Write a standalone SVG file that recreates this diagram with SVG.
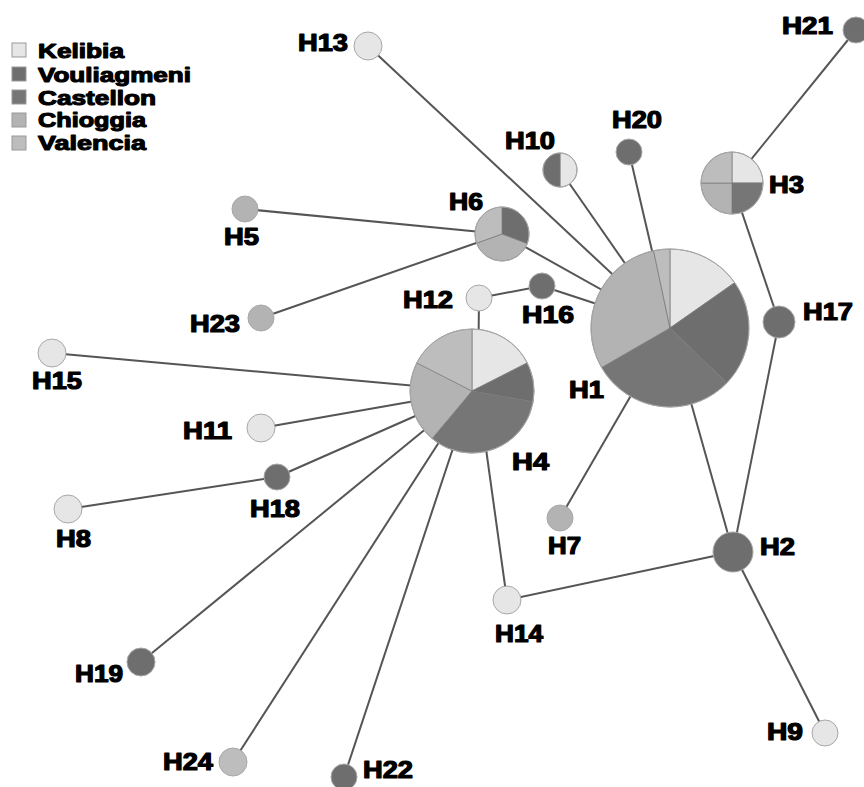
<svg xmlns="http://www.w3.org/2000/svg" width="864" height="787" viewBox="0 0 864 787">
<style>
.e{stroke:#555;stroke-width:2;fill:none}
.n{stroke:#a8a8a8;stroke-width:1}
.s{stroke:#7a7a7a;stroke-width:0.7}
.K{fill:#e6e6e6}.V{fill:#6e6e6e}.C{fill:#767676}.G{fill:#b3b3b3}.L{fill:#bdbdbd}
.t{font-family:"Liberation Sans",Arial,sans-serif;font-weight:bold;font-size:23px;fill:#000;stroke:#000;stroke-width:1.2;stroke-linejoin:round}
.lg{font-family:"Liberation Sans",Arial,sans-serif;font-weight:bold;font-size:20px;fill:#000;stroke:#000;stroke-width:1.1;stroke-linejoin:round}
.sq{stroke:#999;stroke-width:1}
</style>
<rect width="864" height="787" fill="#fff"/>
<g id="legend">
<rect class="sq K" x="12" y="43" width="14" height="14"/><text class="lg" x="38" y="58" textLength="86" lengthAdjust="spacingAndGlyphs">Kelibia</text>
<rect class="sq V" x="12" y="67" width="14" height="14"/><text class="lg" x="38" y="82" textLength="153" lengthAdjust="spacingAndGlyphs">Vouliagmeni</text>
<rect class="sq C" x="12" y="90" width="14" height="14"/><text class="lg" x="38" y="105" textLength="118" lengthAdjust="spacingAndGlyphs">Castellon</text>
<rect class="sq G" x="12" y="113" width="14" height="14"/><text class="lg" x="38" y="127" textLength="108" lengthAdjust="spacingAndGlyphs">Chioggia</text>
<rect class="sq L" x="12" y="136" width="14" height="14"/><text class="lg" x="38" y="150" textLength="108" lengthAdjust="spacingAndGlyphs">Valencia</text>
</g>
<g id="connectors">
<line class="e" x1="368" y1="46" x2="670" y2="328"/>
<line class="e" x1="560" y1="170" x2="670" y2="328"/>
<line class="e" x1="629" y1="152" x2="670" y2="328"/>
<line class="e" x1="502" y1="234" x2="670" y2="328"/>
<line class="e" x1="542" y1="286" x2="670" y2="328"/>
<line class="e" x1="479" y1="298" x2="542" y2="286"/>
<line class="e" x1="479" y1="298" x2="478" y2="391"/>
<line class="e" x1="245" y1="209" x2="502" y2="234"/>
<line class="e" x1="261" y1="318" x2="502" y2="234"/>
<line class="e" x1="732" y1="183" x2="856" y2="30"/>
<line class="e" x1="732" y1="183" x2="779" y2="322"/>
<line class="e" x1="779" y1="322" x2="733" y2="552"/>
<line class="e" x1="670" y1="328" x2="733" y2="552"/>
<line class="e" x1="670" y1="328" x2="560" y2="518"/>
<line class="e" x1="52" y1="353" x2="472" y2="391"/>
<line class="e" x1="261" y1="428" x2="472" y2="391"/>
<line class="e" x1="277" y1="477" x2="472" y2="391"/>
<line class="e" x1="68" y1="509" x2="277" y2="477"/>
<line class="e" x1="141" y1="662" x2="472" y2="391"/>
<line class="e" x1="233" y1="762" x2="472" y2="391"/>
<line class="e" x1="344" y1="777" x2="472" y2="391"/>
<line class="e" x1="507" y1="600" x2="478" y2="391"/>
<line class="e" x1="507" y1="600" x2="733" y2="552"/>
<line class="e" x1="733" y1="552" x2="825" y2="733"/>
</g>
<g id="H1">
<path class="s K" d="M670,328 L670,249 A79,79 0 0 1 734.7,282.7 Z"/>
<path class="s V" d="M670,328 L734.7,282.7 A79,79 0 0 1 726.8,382.9 Z"/>
<path class="s C" d="M670,328 L726.8,382.9 A79,79 0 0 1 601.6,367.5 Z"/>
<path class="s G" d="M670,328 L601.6,367.5 A79,79 0 0 1 653.6,250.7 Z"/>
<path class="s L" d="M670,328 L653.6,250.7 A79,79 0 0 1 670,249 Z"/>
<circle class="n" cx="670" cy="328" r="79" fill="none"/>
<text class="t" x="569" y="398" textLength="35" lengthAdjust="spacingAndGlyphs">H1</text>
</g>
<g id="H4">
<path class="s K" d="M472,391 L472,329 A62,62 0 0 1 527.2,362.9 Z"/>
<path class="s V" d="M472,391 L527.2,362.9 A62,62 0 0 1 533.1,401.8 Z"/>
<path class="s C" d="M472,391 L533.1,401.8 A62,62 0 0 1 432.1,438.5 Z"/>
<path class="s G" d="M472,391 L432.1,438.5 A62,62 0 0 1 416.8,362.9 Z"/>
<path class="s L" d="M472,391 L416.8,362.9 A62,62 0 0 1 472,329 Z"/>
<circle class="n" cx="472" cy="391" r="62" fill="none"/>
<text class="t" x="512" y="470" textLength="37" lengthAdjust="spacingAndGlyphs">H4</text>
</g>
<g id="H3">
<path class="s K" d="M732,183 L732,152 A31,31 0 0 1 763,183 Z"/>
<path class="s C" d="M732,183 L763,183 A31,31 0 0 1 732,214 Z"/>
<path class="s G" d="M732,183 L732,214 A31,31 0 0 1 701,183 Z"/>
<path class="s L" d="M732,183 L701,183 A31,31 0 0 1 732,152 Z"/>
<circle class="n" cx="732" cy="183" r="31" fill="none"/>
<text class="t" x="769" y="193" textLength="35" lengthAdjust="spacingAndGlyphs">H3</text>
</g>
<g id="H6">
<path class="s V" d="M502,234 L502,207 A27,27 0 0 1 527.2,243.7 Z"/>
<path class="s G" d="M502,234 L527.2,243.7 A27,27 0 0 1 476.6,243.2 Z"/>
<path class="s L" d="M502,234 L476.6,243.2 A27,27 0 0 1 502,207 Z"/>
<circle class="n" cx="502" cy="234" r="27" fill="none"/>
<text class="t" x="449" y="210" textLength="34" lengthAdjust="spacingAndGlyphs">H6</text>
</g>
<g id="H10">
<path class="s K" d="M560,170 L560,153 A17,17 0 0 1 560,187 Z"/>
<path class="s V" d="M560,170 L560,187 A17,17 0 0 1 560,153 Z"/>
<circle class="n" cx="560" cy="170" r="17" fill="none"/>
<text class="t" x="505" y="149" textLength="50" lengthAdjust="spacingAndGlyphs">H10</text>
</g>
<g id="H13"><circle class="n K" cx="368" cy="46" r="14"/><text class="t" x="298" y="51" textLength="50" lengthAdjust="spacingAndGlyphs">H13</text></g>
<g id="H20"><circle class="n V" cx="629" cy="152" r="13"/><text class="t" x="612" y="128" textLength="50" lengthAdjust="spacingAndGlyphs">H20</text></g>
<g id="H21"><circle class="n V" cx="856" cy="30" r="13"/><text class="t" x="782" y="34" textLength="51" lengthAdjust="spacingAndGlyphs">H21</text></g>
<g id="H5"><circle class="n G" cx="245" cy="209" r="13"/><text class="t" x="224" y="245" textLength="35" lengthAdjust="spacingAndGlyphs">H5</text></g>
<g id="H23"><circle class="n G" cx="261" cy="318" r="13"/><text class="t" x="190" y="332" textLength="50" lengthAdjust="spacingAndGlyphs">H23</text></g>
<g id="H12"><circle class="n K" cx="479" cy="298" r="13"/><text class="t" x="403" y="308" textLength="50" lengthAdjust="spacingAndGlyphs">H12</text></g>
<g id="H16"><circle class="n V" cx="542" cy="286" r="13"/><text class="t" x="522" y="323" textLength="52" lengthAdjust="spacingAndGlyphs">H16</text></g>
<g id="H17"><circle class="n V" cx="779" cy="322" r="16"/><text class="t" x="803" y="320" textLength="50" lengthAdjust="spacingAndGlyphs">H17</text></g>
<g id="H15"><circle class="n K" cx="52" cy="353" r="14"/><text class="t" x="32" y="389" textLength="50" lengthAdjust="spacingAndGlyphs">H15</text></g>
<g id="H11"><circle class="n K" cx="261" cy="428" r="14"/><text class="t" x="183" y="439" textLength="49" lengthAdjust="spacingAndGlyphs">H11</text></g>
<g id="H18"><circle class="n V" cx="277" cy="477" r="13"/><text class="t" x="250" y="517" textLength="50" lengthAdjust="spacingAndGlyphs">H18</text></g>
<g id="H8"><circle class="n K" cx="68" cy="509" r="14"/><text class="t" x="56" y="547" textLength="35" lengthAdjust="spacingAndGlyphs">H8</text></g>
<g id="H7"><circle class="n G" cx="560" cy="518" r="13"/><text class="t" x="548" y="554" textLength="33" lengthAdjust="spacingAndGlyphs">H7</text></g>
<g id="H2"><circle class="n V" cx="733" cy="552" r="20"/><text class="t" x="760" y="555" textLength="35" lengthAdjust="spacingAndGlyphs">H2</text></g>
<g id="H14"><circle class="n K" cx="507" cy="600" r="14"/><text class="t" x="495" y="642" textLength="48" lengthAdjust="spacingAndGlyphs">H14</text></g>
<g id="H19"><circle class="n V" cx="141" cy="662" r="14"/><text class="t" x="75" y="682" textLength="48" lengthAdjust="spacingAndGlyphs">H19</text></g>
<g id="H9"><circle class="n K" cx="825" cy="733" r="13"/><text class="t" x="767" y="740" textLength="36" lengthAdjust="spacingAndGlyphs">H9</text></g>
<g id="H24"><circle class="n L" cx="233" cy="762" r="14"/><text class="t" x="163" y="770" textLength="50" lengthAdjust="spacingAndGlyphs">H24</text></g>
<g id="H22"><circle class="n V" cx="344" cy="777" r="13"/><text class="t" x="363" y="778" textLength="50" lengthAdjust="spacingAndGlyphs">H22</text></g>
</svg>
